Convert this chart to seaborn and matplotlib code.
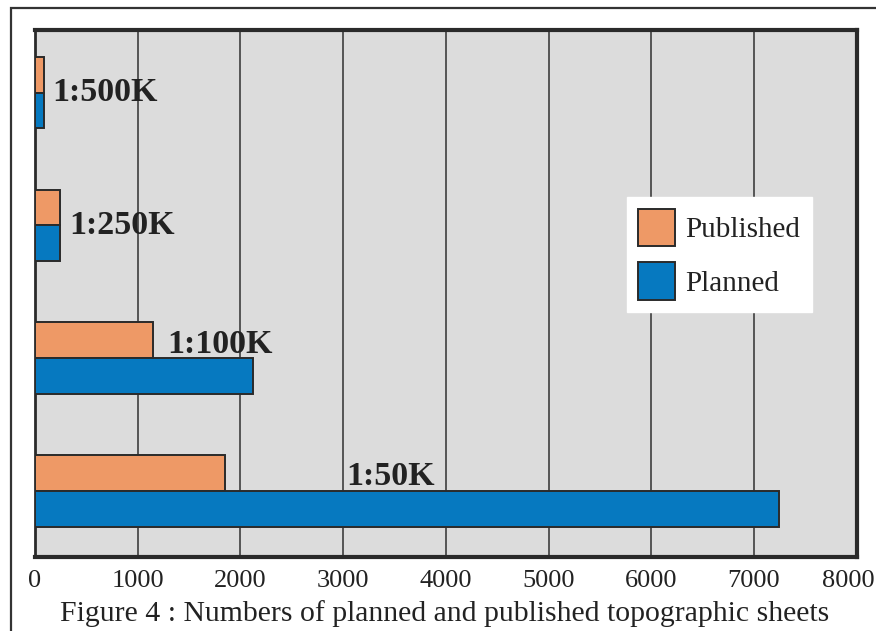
import matplotlib

matplotlib.use("Agg")
import matplotlib.pyplot as plt
import matplotlib.transforms as mtransforms
import pandas as pd
import seaborn as sns
from matplotlib.patches import Rectangle

# --- Data ---
scales = ["1:500K", "1:250K", "1:100K", "1:50K"]
published = [85, 240, 1150, 1850]
planned = [90, 245, 2125, 7240]
series = ["Published", "Planned"]
x_ticks = [0, 1000, 2000, 3000, 4000, 5000, 6000, 7000, 8000]
caption = "Figure 4 : Numbers of planned and published topographic sheets"

ORANGE = "#EE9966"
BLUE = "#0679C0"

df = pd.DataFrame(
    {
        "scale": scales * 2,
        "count": published + planned,
        "type": [series[0]] * len(scales) + [series[1]] * len(scales),
    }
)

sns.set_style("white")
plt.rcParams["font.family"] = ["Liberation Serif", "DejaVu Serif"]

fig = plt.figure(figsize=(8.76, 6.31), dpi=100)
ax = fig.add_axes([0.040, 0.117, 0.938, 0.835])
ax.set_facecolor("#DCDCDC")

sns.barplot(
    data=df,
    x="count",
    y="scale",
    hue="type",
    hue_order=series,
    order=scales,
    palette=[ORANGE, BLUE],
    saturation=1,
    orient="h",
    width=0.54,
    edgecolor="#2a2a2a",
    linewidth=1.4,
    ax=ax,
    zorder=3,
)

# grid and limits
ax.set_xlim(0, 8000)
ax.set_ylim(3.5, -0.47)
ax.set_xticks(x_ticks)
ax.set_xticklabels([str(t) for t in x_ticks], fontsize=19, color="#222222")
ax.set_yticks([])
ax.set_xlabel("")
ax.set_ylabel("")
ax.tick_params(axis="x", length=0, pad=9)
# keep the last tick label inside the canvas
last = ax.get_xticklabels()[-1]
last.set_transform(last.get_transform() + mtransforms.ScaledTranslation(-6 / 72, 0, fig.dpi_scale_trans))
for t in x_ticks[1:-1]:
    ax.axvline(t, color="#4a4a4a", linewidth=1.3, zorder=1)

for side in ["top", "right", "bottom"]:
    ax.spines[side].set_linewidth(3)
    ax.spines[side].set_color("#2a2a2a")
ax.spines["left"].set_linewidth(2)
ax.spines["left"].set_color("#2a2a2a")

# scale labels next to the bars
label_pos = [(165, 0.0), (330, 1.0), (1290, 1.9), (3030, 2.89)]
for name, (lx, ly) in zip(scales, label_pos):
    ax.text(lx, ly, name, fontsize=24.5, fontweight="bold", color="#222222",
            va="center", ha="left", zorder=4)

# legend
leg = ax.legend(
    loc="upper left",
    bbox_to_anchor=(0.72, 0.683),
    borderaxespad=0,
    frameon=True,
    fancybox=False,
    fontsize=21,
    handlelength=1.25,
    handleheight=1.6,
    handletextpad=0.35,
    labelspacing=0.55,
    borderpad=0.4,
    title=None,
)
leg.get_frame().set_facecolor("white")
leg.get_frame().set_edgecolor("white")
leg.get_frame().set_alpha(1)
for txt in leg.get_texts():
    txt.set_color("#222222")

# caption
fig.text(0.508, 0.027, caption, ha="center", va="center", fontsize=21.4, color="#222222")

# outer frame (top and left edges only visible)
fig.add_artist(Rectangle((0.0125, -0.1), 1.2, 1.087, transform=fig.transFigure,
                         fill=False, edgecolor="#333333", linewidth=1.6))

fig.savefig("out.png", dpi=100)
